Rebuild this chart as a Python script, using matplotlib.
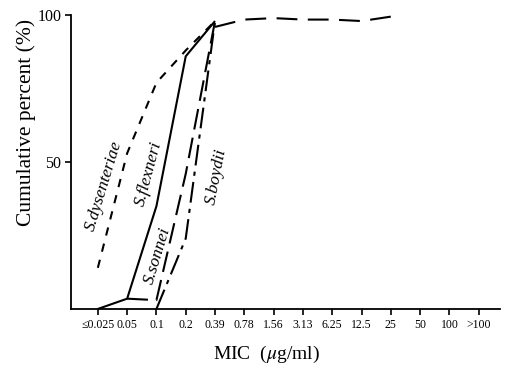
import matplotlib
matplotlib.use("Agg")
import matplotlib.pyplot as plt
import numpy as np

plt.rcParams['font.family'] = ['Liberation Serif', 'DejaVu Serif']
plt.rcParams['mathtext.fontset'] = 'stix'

mic_labels = ["≤0.025", "0.05", "0.1", "0.2", "0.39", "0.78", "1.56", "3.13",
              "6.25", "12.5", "25", "50", "100", ">100"]

# cumulative percent by MIC index (None = not plotted)
dysenteriae = [14, 53, 77, 88, 98]
flexneri = [0, 3.5, 35, 86, 98]
sonnei = [None, 3.5, 3, 46, 98]
sonnei_tail = [96, 98.5, 99, 98.5, 98.5, 98, 99.5]   # from 0.39 onward
boydii = [None, None, 0, 24, 98]

fig = plt.figure(figsize=(5.1, 3.7), dpi=100)
ax = fig.add_axes([0.139, 0.165, 0.841, 0.794])

def xy(vals, start=0):
    xs, ys = [], []
    for i, v in enumerate(vals):
        if v is not None:
            xs.append(i + start)
            ys.append(v)
    return xs, ys

lw = 1.5
x, y = xy(dysenteriae)
ax.plot(x, y, color='black', lw=lw, dashes=(4, 4))
x, y = xy(flexneri)
ax.plot(x, y, color='black', lw=lw, solid_capstyle='butt')
x, y = xy(sonnei)
ax.plot(x, y, color='black', lw=lw, dashes=(10, 4))
x, y = xy(sonnei_tail, start=4)
ax.plot(x, y, color='black', lw=lw, dashes=(10, 5))
x, y = xy(boydii)
ax.plot(x, y, color='black', lw=lw, dashes=(10, 3, 2, 3))

ax.set_xlim(-0.92, 13.72)
ax.set_ylim(0, 100)
ax.set_xticks(range(len(mic_labels)))
ax.set_xticklabels(mic_labels, fontsize=8.5)
ax.set_yticks([50, 100])
ax.set_yticklabels(["50", "100"], fontsize=11.5)
ax.tick_params(axis='both', direction='out', length=4, width=1.2, pad=3)
for s in ['top', 'right']:
    ax.spines[s].set_visible(False)
for s in ['left', 'bottom']:
    ax.spines[s].set_linewidth(1.3)

ax.set_ylabel("Cumulative percent (%)", fontsize=15.5)
ax.yaxis.set_label_coords(-0.082, 0.636)
ax.set_xlabel("MIC  ($\\mu$g/ml)", fontsize=14)
ax.xaxis.set_label_coords(0.457, -0.118)

# series labels (data coordinates)
lab_kw = dict(fontsize=12.5, style='italic', ha='center', va='center', color='black')
ax.text(0.22, 42, "S.dysenteriae", rotation=73, **lab_kw)
ax.text(1.75, 46, "S.flexneri", rotation=75, **lab_kw)
ax.text(2.05, 18, "S.sonnei", rotation=73, **lab_kw)
ax.text(4.05, 45, "S.boydii", rotation=79, **lab_kw)

fig.savefig("out.png", dpi=100)
